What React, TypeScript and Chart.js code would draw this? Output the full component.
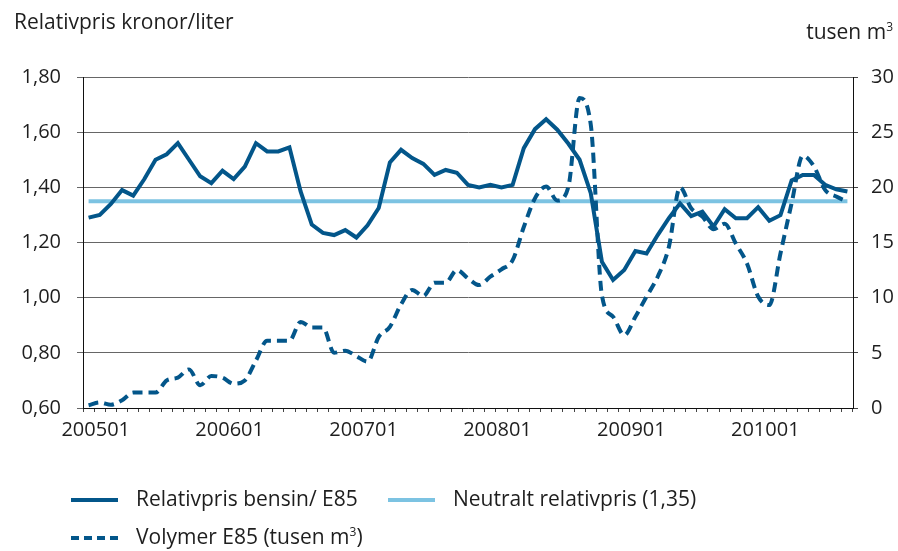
import React, { useEffect, useRef } from 'react';
import { Chart, registerables } from 'chart.js';

Chart.register(...registerables);

const months = [
  '200412',
  '200501', '200502', '200503', '200504', '200505', '200506', '200507', '200508', '200509', '200510', '200511', '200512',
  '200601', '200602', '200603', '200604', '200605', '200606', '200607', '200608', '200609', '200610', '200611', '200612',
  '200701', '200702', '200703', '200704', '200705', '200706', '200707', '200708', '200709', '200710', '200711', '200712',
  '200801', '200802', '200803', '200804', '200805', '200806', '200807', '200808', '200809', '200810', '200811', '200812',
  '200901', '200902', '200903', '200904', '200905', '200906', '200907', '200908', '200909', '200910', '200911', '200912',
  '201001', '201002', '201003', '201004', '201005', '201006', '201007', '201008',
];

const relativpris = [
  1.29, 1.30, 1.34, 1.39, 1.37, 1.43, 1.50, 1.52, 1.56, 1.50,
  1.44, 1.415, 1.46, 1.43, 1.475, 1.56, 1.53, 1.53, 1.545, 1.385,
  1.265, 1.235, 1.227, 1.245, 1.218, 1.262, 1.325, 1.49, 1.536, 1.506,
  1.485, 1.445, 1.463, 1.453, 1.409, 1.40, 1.409, 1.40, 1.409, 1.542,
  1.611, 1.647, 1.609, 1.558, 1.50, 1.379, 1.13, 1.064, 1.10, 1.169,
  1.16, 1.227, 1.288, 1.342, 1.296, 1.312, 1.258, 1.321, 1.288, 1.288,
  1.328, 1.279, 1.299, 1.425, 1.445, 1.445, 1.409, 1.393, 1.385,
];

const volym = [
  0.25, 0.5, 0.3, 0.7, 1.4, 1.4, 1.4, 2.5, 2.75, 3.5,
  2.06, 2.9, 2.75, 2.2, 2.5, 4.3, 6.1, 6.1, 6.1, 7.8,
  7.3, 7.3, 5.0, 5.2, 4.7, 4.2, 6.45, 7.36, 9.4, 10.7,
  10.15, 11.36, 11.36, 12.5, 11.75, 11.14, 11.9, 12.57, 13.4, 16.4,
  19.0, 20.07, 18.8, 20.07, 28.1, 25.7, 10.2, 8.27, 6.6, 8.27,
  10.1, 11.9, 14.6, 20.0, 18.1, 17.35, 16.2, 16.7, 14.9, 13.1,
  10.1, 9.33, 14.0, 18.56, 22.86, 21.9, 19.77, 19.16, 18.7,
];

const NEUTRAL = 1.35;
const neutral = months.map(() => NEUTRAL);

const leftTicks = [0.6, 0.8, 1.0, 1.2, 1.4, 1.6, 1.8];
const rightTicks = [0, 5, 10, 15, 20, 25, 30];

const DARK = '#03568a';
const LIGHT = '#7cc3e2';
const TEXT = '#1e1e1e';
const FONT = "'Open Sans', sans-serif";

export default function App() {
  const ref = useRef<HTMLCanvasElement | null>(null);

  useEffect(() => {
    if (!ref.current) return;
    const font = { family: FONT, size: 20 };
    const chart = new Chart(ref.current, {
      type: 'line',
      data: {
        labels: months,
        datasets: [
          {
            label: 'Relativpris bensin/ E85',
            data: relativpris,
            borderColor: DARK,
            borderWidth: 4,
            pointRadius: 0,
            tension: 0,
            yAxisID: 'y',
            order: 1,
          },
          {
            label: 'Volymer E85 (tusen m³)',
            data: volym,
            borderColor: DARK,
            borderWidth: 4,
            borderDash: [10, 6],
            pointRadius: 0,
            cubicInterpolationMode: 'monotone',
            yAxisID: 'y1',
            order: 2,
          },
          {
            label: 'Neutralt relativpris (1,35)',
            data: neutral,
            borderColor: LIGHT,
            borderWidth: 4,
            pointRadius: 0,
            tension: 0,
            yAxisID: 'y',
            order: 3,
          },
        ],
      },
      options: {
        responsive: false,
        animation: false,
        layout: { padding: { left: 0, right: 0, top: 77, bottom: 103 } },
        plugins: { legend: { display: false }, tooltip: { enabled: false } },
        scales: {
          x: {
            type: 'category',
            offset: true,
            grid: {
              offset: true,
              drawOnChartArea: false,
              drawTicks: true,
              tickLength: 4,
              color: '#444',
            },
            border: { display: true, color: '#111', width: 1 },
            ticks: {
              autoSkip: false,
              maxRotation: 0,
              minRotation: 0,
              padding: 6,
              labelOffset: -4,
              font,
              color: TEXT,
              callback: (_v: any, i: number) => (months[i].endsWith('01') ? months[i] : ''),
            },
            afterFit: (s: any) => {
              s.height = 40;
            },
          },
          y: {
            position: 'left',
            min: leftTicks[0],
            max: leftTicks[leftTicks.length - 1],
            afterBuildTicks: (s: any) => {
              s.ticks = leftTicks.map((v) => ({ value: v }));
            },
            grid: { color: '#666', tickLength: 6, lineWidth: 1 },
            border: { display: true, color: '#111', width: 1 },
            ticks: {
              padding: 16,
              font,
              color: TEXT,
              callback: (v: any) => Number(v).toFixed(2).replace('.', ','),
            },
            afterFit: (s: any) => {
              s.width = 83;
            },
          },
          y1: {
            position: 'right',
            min: rightTicks[0],
            max: rightTicks[rightTicks.length - 1],
            afterBuildTicks: (s: any) => {
              s.ticks = rightTicks.map((v) => ({ value: v }));
            },
            grid: { drawOnChartArea: false, tickLength: 5, color: '#444' },
            border: { display: true, color: '#111', width: 1 },
            ticks: {
              padding: 13,
              font,
              color: TEXT,
              callback: (v: any) => String(v),
            },
            afterFit: (s: any) => {
              s.width = 45;
            },
          },
        },
      },
    } as any);
    return () => chart.destroy();
  }, []);

  const textStyle: React.CSSProperties = {
    position: 'absolute',
    fontFamily: FONT,
    fontSize: 21,
    lineHeight: '24px',
    color: TEXT,
    whiteSpace: 'nowrap',
  };

  const supStyle: React.CSSProperties = {
    fontSize: 12,
    lineHeight: 0,
    verticalAlign: '0.7em',
  };

  const solidSample = (color: string, left: number, top: number) => (
    <div style={{ position: 'absolute', left, top: top - 2, width: 47, height: 4, background: color }} />
  );

  return (
    <div style={{ position: 'fixed', left: 0, top: 0, width: 898, height: 551, background: '#fff' }}>
      <canvas ref={ref} width={898} height={551} style={{ position: 'absolute', left: 0, top: 0 }} />
      <div style={{ ...textStyle, left: 14, top: 9 }}>Relativpris kronor/liter</div>
      <div style={{ ...textStyle, right: 5, top: 19 }}>
        tusen m<span style={supStyle}>3</span>
      </div>

      {solidSample(DARK, 71, 500)}
      <div style={{ ...textStyle, left: 136, top: 486 }}>Relativpris bensin/ E85</div>
      {solidSample(LIGHT, 388, 500)}
      <div style={{ ...textStyle, left: 453, top: 486 }}>Neutralt relativpris (1,35)</div>

      <svg style={{ position: 'absolute', left: 71, top: 535 }} width={47} height={6}>
        <line x1={0} y1={3} x2={47} y2={3} stroke={DARK} strokeWidth={4} strokeDasharray="8 5" />
      </svg>
      <div style={{ ...textStyle, left: 136, top: 524 }}>
        Volymer E85 (tusen m<span style={supStyle}>3</span>)
      </div>
    </div>
  );
}
